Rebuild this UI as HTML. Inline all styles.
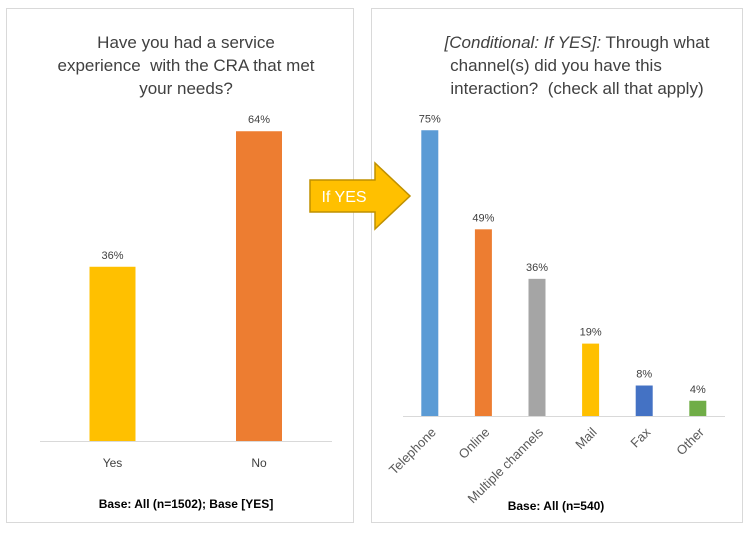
<!DOCTYPE html>
<html><head><meta charset="utf-8"><style>
body{margin:0;background:#fff;font-family:"Liberation Sans",sans-serif;}
svg text{font-family:"Liberation Sans",sans-serif;}
</style></head><body>
<svg id="c" width="755" height="537">
<rect x="6.5" y="8.5" width="347" height="514" fill="#fff" stroke="#d9d9d9"/>
<rect x="371.5" y="8.5" width="371" height="514" fill="#fff" stroke="#d9d9d9"/>
<g font-size="17" fill="#404040" text-anchor="middle">
<text x="186" y="48" fill="#404040">Have you had a service</text>
<text x="186" y="71" fill="#404040">experience&#160; with the CRA that met</text>
<text x="186" y="94" fill="#404040">your needs?</text>
</g>
<g font-size="17" fill="#404040" text-anchor="middle">
<text x="577" y="48" fill="#404040"><tspan font-style="italic">[Conditional: If YES]:</tspan> Through what</text>
<text x="556" y="71" fill="#404040">channel(s) did you have this</text>
<text x="577" y="94" fill="#404040">interaction?&#160; (check all that apply)</text>
</g>
<polygon points="310,180 375,180 375,163 410,196 375,229 375,212 310,212" fill="#ffc000" stroke="#bf9000" stroke-width="1.5"/>
<text x="344" y="202" font-size="16" fill="#fff" text-anchor="middle">If YES</text>
<text x="186" y="508" font-size="12" font-weight="bold" fill="#000" text-anchor="middle">Base: All (n=1502); Base [YES]</text>
<text x="556" y="510" font-size="12" font-weight="bold" fill="#000" text-anchor="middle">Base: All (n=540)</text>
<g id="left"></g><g id="right"></g>
</svg>
<script>
const leftCats=["Yes","No"];
const leftVals=[36,64];
const leftColors=["#ffc000","#ed7d31"];
const rightCats=["Telephone","Online","Multiple channels","Mail","Fax","Other"];
const rightVals=[75,49,36,19,8,4];
const rightColors=["#5b9bd5","#ed7d31","#a5a5a5","#ffc000","#4472c4","#70ad47"];
const NS="http://www.w3.org/2000/svg";
function mk(p,t,a,txt){const e=document.createElementNS(NS,t);for(const k in a)e.setAttribute(k,a[k]);if(txt!=null)e.textContent=txt;p.appendChild(e);return e;}
// left
(function(){
const g=document.getElementById('left');const base=441,ppu=4.84,x0=40,step=146,bw=46;
const ax=mk(g,'line',{x1:40,x2:332,y1:base+0.5,y2:base+0.5,stroke:'#d9d9d9'});


leftVals.forEach((v,i)=>{const cx=x0+step*(i+0.5)+(i?0:-0.5);const h=v*ppu;
const r=mk(g,'rect',{x:cx-bw/2,y:base-h,width:bw,height:h,fill:leftColors[i]});


const t=mk(g,'text',{x:cx,y:base-h-8,'font-size':11,fill:'#404040','text-anchor':'middle'},v+'%');


const c=mk(g,'text',{x:cx,y:base+26,'font-size':12,fill:'#404040','text-anchor':'middle'},leftCats[i]);

});
})();
// right
(function(){
const g=document.getElementById('right');const base=416,ppu=3.81,x0=403,step=53.6,bw=17;
const ax=mk(g,'line',{x1:403,x2:725,y1:base+0.5,y2:base+0.5,stroke:'#d9d9d9'});


rightVals.forEach((v,i)=>{const cx=x0+step*(i+0.5);const h=v*ppu;const n=rightCats[i].toLowerCase().replace(/ /g,'-');
const r=mk(g,'rect',{x:cx-bw/2,y:base-h,width:bw,height:h,fill:rightColors[i]});


const t=mk(g,'text',{x:cx,y:base-h-8,'font-size':11,fill:'#404040','text-anchor':'middle'},v+'%');


const ax2=cx+7,ay=base+17;
const c=mk(g,'text',{x:ax2,y:ay,'font-size':13,fill:'#595959','text-anchor':'end',transform:'rotate(-45 '+ax2+' '+ay+')'},rightCats[i]);

});
})();
</script>
</body></html>
